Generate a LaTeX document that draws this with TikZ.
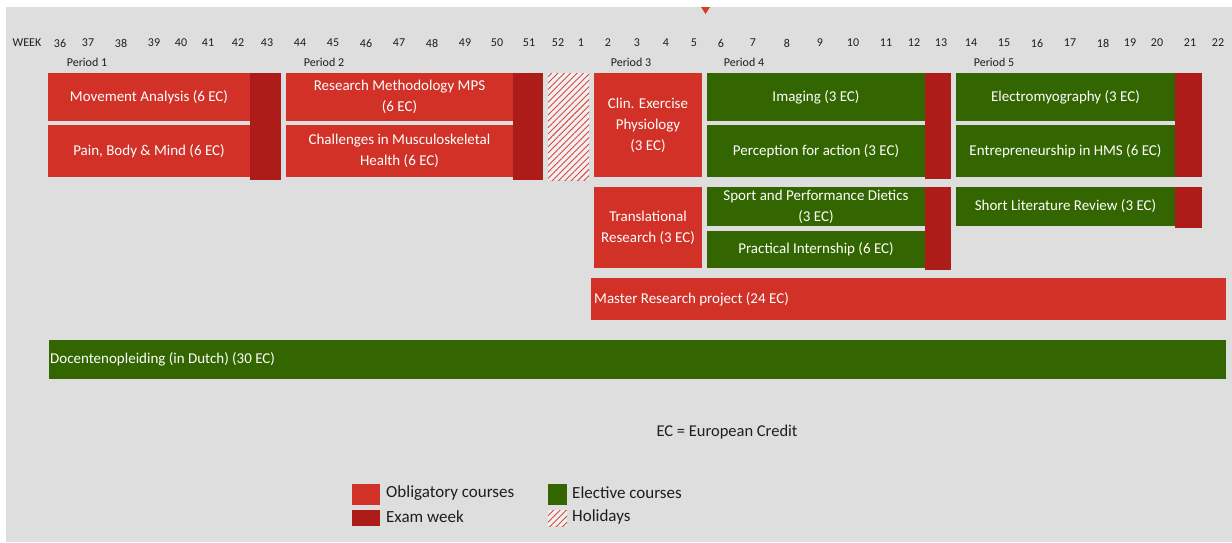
\documentclass[tikz,border=0pt]{standalone}
\usepackage{fontspec}
\setmainfont{Carlito}
\usetikzlibrary{patterns.meta}
\definecolor{bg}{HTML}{DEDEDE}
\definecolor{oblig}{HTML}{D13127}
\definecolor{exam}{HTML}{AD1C18}
\definecolor{elect}{HTML}{336600}
\definecolor{hatchc}{HTML}{D9473F}
\definecolor{hatchbg}{HTML}{F0F0F0}
\definecolor{txt}{HTML}{1E1E1E}
\begin{document}
\begin{tikzpicture}[x=1pt,y=-1pt,
  cbox/.style={inner sep=0pt, outer sep=0pt, anchor=north west, text=white, align=center,
    font=\fontsize{15}{21}\selectfont},
  obl/.style={cbox, fill=oblig},
  ele/.style={cbox, fill=elect},
  exm/.style={cbox, fill=exam},
  hol/.style={cbox, fill=hatchbg, postaction={pattern={Lines[angle=45,distance=4.5pt,line width=0.9pt]}, pattern color=hatchc}},
  wk/.style={inner sep=0pt, text=txt, font=\fontsize{12}{14}\selectfont},
  per/.style={inner sep=0pt, text=txt, font=\fontsize{12}{14}\selectfont},
  lbl/.style={inner sep=0pt, anchor=west, text=white, font=\fontsize{15}{21}\selectfont},
  leg/.style={inner sep=0pt, anchor=west, text=txt, font=\fontsize{17}{20}\selectfont},
]
\useasboundingbox (0,0) rectangle (1232,542);
\fill[white] (0,0) rectangle (1232,542);
\fill[bg] (6,7) rectangle (1232,542);
\fill[oblig!85!orange] (701,7) -- (710,7) -- (705.5,14) -- cycle;

% weeks
\foreach \x/\w in {27/WEEK,60/36,88/37,121/38,154/39,181/40,208/41,238/42,267/43,300/44,333/45,366/46,399/47,432/48,465/49,497/50,529/51,558/52,581/1,608/2,637/3,666/4,694/5,721/6,753/7,787/8,820/9,853/10,886/11,914/12,941/13,971/14,1004/15,1037/16,1070/17,1103/18,1130/19,1157/20,1190/21,1218/22}
  \node[wk] (w\w) at (\x,43) {\w};

% periods
\node[per] (p1) at (87,62) {Period 1};
\node[per] (p2) at (324,62) {Period 2};
\node[per] (p3) at (631,62) {Period 3};
\node[per] (p4) at (744,62) {Period 4};
\node[per] (p5) at (994,62) {Period 5};

% period 1
\node[obl, minimum width=202pt, minimum height=48pt] (ma) at (48,73) {Movement Analysis (6 EC)};
\node[obl, minimum width=202pt, minimum height=52pt] (pbm) at (48,125) {Pain, Body \& Mind (6 EC)};
\node[exm, minimum width=31pt, minimum height=107pt] (ex1) at (250,73) {};
% period 2
\node[obl, minimum width=227pt, minimum height=48pt] (rm) at (286,73) {Research Methodology MPS\\(6 EC)};
\node[obl, minimum width=227pt, minimum height=52pt] (cms) at (286,125) {Challenges in Musculoskeletal\\Health (6 EC)};
\node[exm, minimum width=30pt, minimum height=107pt] (ex2) at (513,73) {};
% holidays
\node[hol, minimum width=41pt, minimum height=107pt] (hd) at (548,73) {};
% period 3
\node[obl, minimum width=108pt, minimum height=104pt] (cep) at (594,73) {Clin. Exercise\\Physiology\\(3 EC)};
\node[obl, minimum width=108pt, minimum height=81pt] (tr) at (594,187) {Translational\\Research (3 EC)};
% period 4
\node[ele, minimum width=218pt, minimum height=48pt] (img) at (707,73) {Imaging (3 EC)};
\node[ele, minimum width=218pt, minimum height=52pt] (pfa) at (707,125) {Perception for action (3 EC)};
\node[exm, minimum width=26pt, minimum height=106pt] (ex4a) at (925,73) {};
\node[ele, minimum width=218pt, minimum height=39pt] (spd) at (707,187) {Sport and Performance Dietics\\(3 EC)};
\node[ele, minimum width=218pt, minimum height=37pt] (pi) at (707,231) {Practical Internship (6 EC)};
\node[exm, minimum width=26pt, minimum height=83pt] (ex4b) at (925,187) {};
% period 5
\node[ele, minimum width=219pt, minimum height=48pt] (emg) at (956,73) {Electromyography (3 EC)};
\node[ele, minimum width=219pt, minimum height=52pt] (ent) at (956,125) {Entrepreneurship in HMS (6 EC)};
\node[exm, minimum width=27pt, minimum height=104pt] (ex5a) at (1175,73) {};
\node[ele, minimum width=219pt, minimum height=39pt] (slr) at (956,187) {Short Literature Review (3 EC)};
\node[exm, minimum width=27pt, minimum height=41pt] (ex5b) at (1175,187) {};
% long bars
\node[obl, minimum width=635pt, minimum height=42pt] (mrp) at (591,278) {};
\node[lbl] (mrpt) at ([xshift=3pt]mrp.west) {Master Research project (24 EC)};
\node[ele, minimum width=1177pt, minimum height=39pt] (doc) at (49,340) {};
\node[lbl] (doct) at ([xshift=1pt]doc.west) {Docentenopleiding (in Dutch) (30 EC)};

% note
\node[inner sep=0pt, text=txt, font=\fontsize{16.5}{18}\selectfont] (ec) at (727,432) {EC = European Credit};

% legend
\node[obl, minimum width=28pt, minimum height=21pt] (lg1) at (352,484) {};
\node[leg] (lg1t) at (386,493) {Obligatory courses};
\node[exm, minimum width=28pt, minimum height=16pt] (lg2) at (352,510) {};
\node[leg] (lg2t) at (386,517) {Exam week};
\node[ele, minimum width=19pt, minimum height=21pt] (lg3) at (548,484) {};
\node[leg] (lg3t) at (572,493) {Elective courses};
\node[hol, minimum width=19pt, minimum height=16pt] (lg4) at (548,510) {};
\node[leg] (lg4t) at (572,517) {Holidays};
\end{tikzpicture}
\end{document}
